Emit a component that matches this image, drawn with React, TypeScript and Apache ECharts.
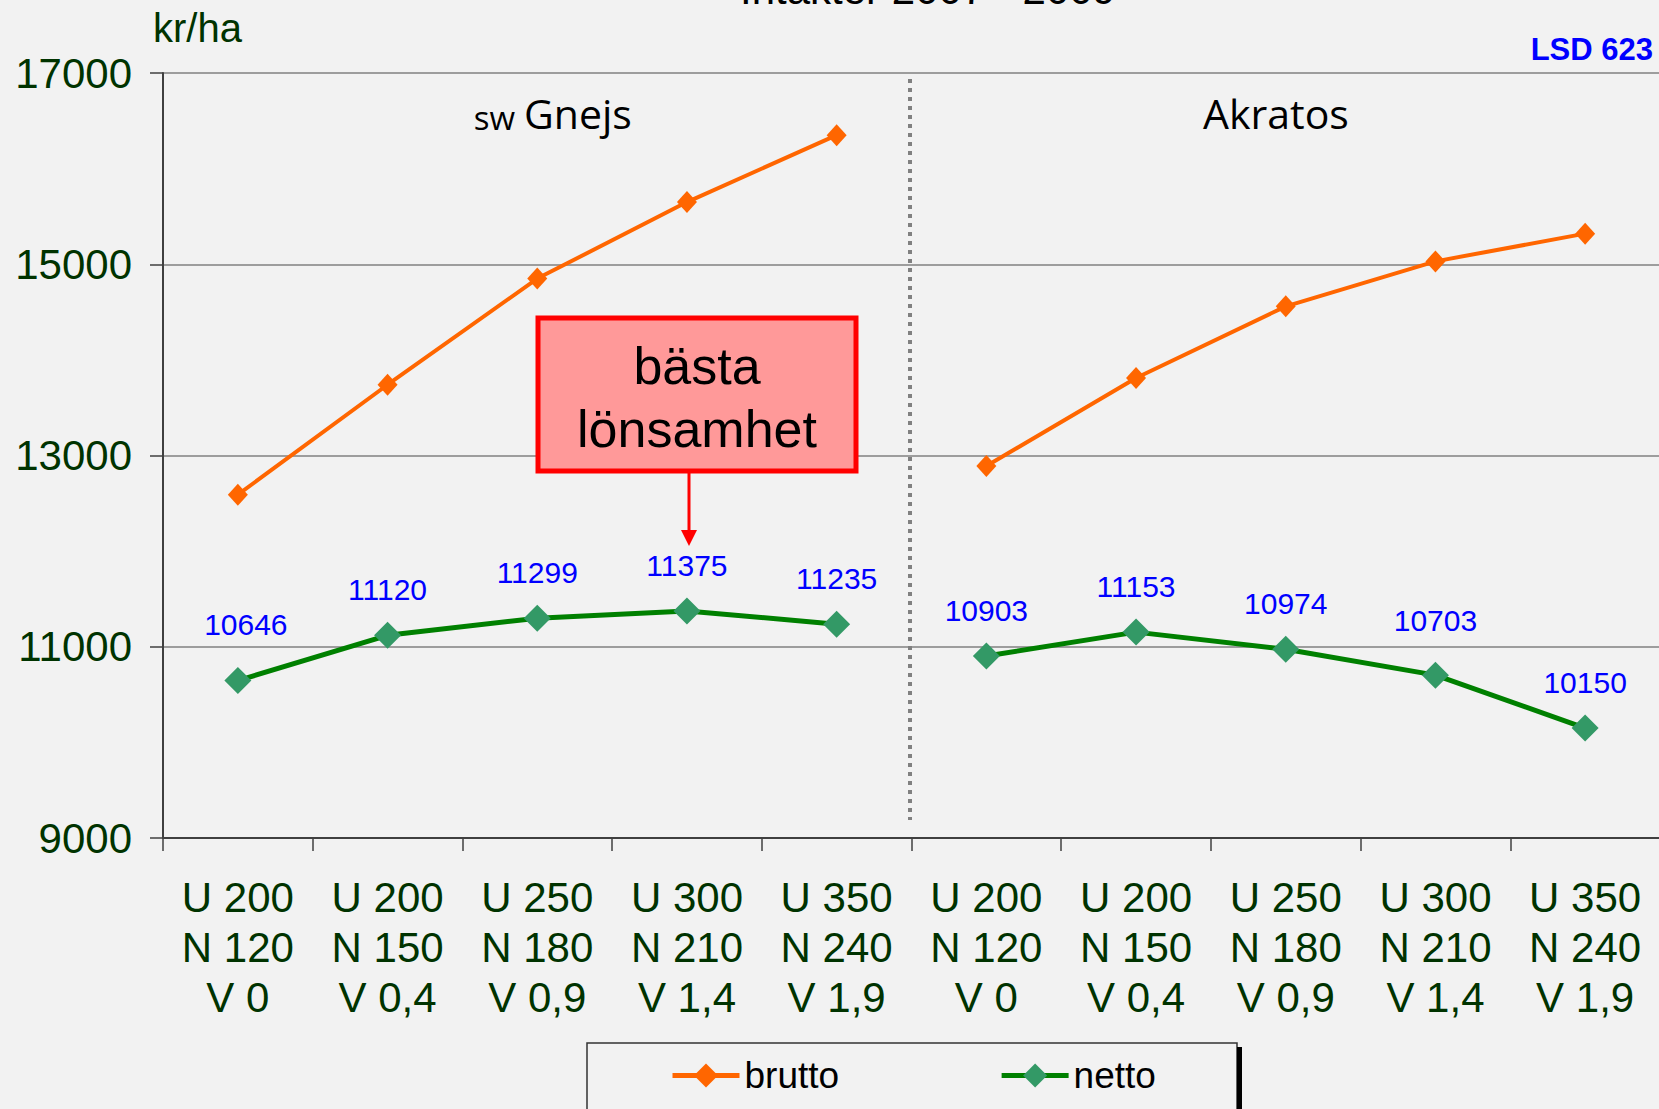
import React, { useEffect, useRef } from 'react';
import * as echarts from 'echarts';

const categories = [
  'U 200\nN 120\nV 0',
  'U 200\nN 150\nV 0,4',
  'U 250\nN 180\nV 0,9',
  'U 300\nN 210\nV 1,4',
  'U 350\nN 240\nV 1,9',
  'U 200\nN 120\nV 0',
  'U 200\nN 150\nV 0,4',
  'U 250\nN 180\nV 0,9',
  'U 300\nN 210\nV 1,4',
  'U 350\nN 240\nV 1,9',
];
const gnejsBrutto = [12590, 13740, 14850, 15650, 16350];
const akratosBrutto = [12890, 13810, 14560, 15030, 15320];
const gnejsNetto = [10646, 11120, 11299, 11375, 11235];
const akratosNetto = [10903, 11153, 10974, 10703, 10150];
const yMin = 9000;
const yMax = 17000;
const yInterval = 2000;

const ARIAL = '"Liberation Sans", Arial, sans-serif';
const CALIBRI = '"Open Sans", "Noto Sans", sans-serif';
const EMPTY = ['-', '-', '-', '-', '-'];

export default function App() {
  const ref = useRef<HTMLDivElement>(null);
  useEffect(() => {
    const chart = echarts.init(ref.current!, null, { renderer: 'svg' });
    const idx = categories.map((_, i) => String(i));
    const nettoLabel = {
      show: true,
      position: 'top',
      distance: 17,
      color: '#0000ff',
      fontSize: 30,
      fontFamily: ARIAL,
    };
    const option: any = {
      animation: false,
      backgroundColor: '#f2f2f2',
      grid: { left: 163, top: 73, width: 1497, height: 765, containLabel: false, outerBoundsMode: 'none' },
      legend: {
        left: 670,
        top: 1057,
        padding: 0,
        itemWidth: 67,
        itemHeight: 30,
        itemGap: 160,
        data: ['brutto', 'netto'],
        lineStyle: { width: 5 },
        textStyle: { fontSize: 37, fontFamily: ARIAL, color: '#000' },
      },
      xAxis: {
        type: 'category',
        data: idx,
        boundaryGap: true,
        axisLine: { show: true, lineStyle: { color: '#404040', width: 2 } },
        axisTick: { show: true, length: 13, lineStyle: { color: '#404040', width: 1.5 } },
        axisLabel: {
          formatter: (_v: string, i: number) => categories[i],
          interval: 0,
          margin: 34,
          color: '#003300',
          fontSize: 42,
          lineHeight: 50,
          fontFamily: ARIAL,
        },
        splitLine: { show: false },
      },
      yAxis: {
        type: 'value',
        min: yMin,
        max: yMax,
        interval: yInterval,
        axisLine: { show: true, lineStyle: { color: '#404040', width: 2 } },
        axisTick: { show: true, length: 13, lineStyle: { color: '#404040', width: 1.5 } },
        axisLabel: {
          margin: 31,
          color: '#003300',
          fontSize: 42,
          fontFamily: ARIAL,
          formatter: (v: number) => String(v),
        },
        splitLine: { show: true, lineStyle: { color: '#808080', width: 1.5 } },
      },
      series: [
        {
          name: 'brutto',
          type: 'line',
          data: [...gnejsBrutto, ...EMPTY],
          symbol: 'diamond',
          symbolSize: [20, 22],
          lineStyle: { color: '#ff6600', width: 4 },
          itemStyle: { color: '#ff6600' },
          z: 3,
        },
        {
          name: 'brutto',
          type: 'line',
          data: [...EMPTY, ...akratosBrutto],
          symbol: 'diamond',
          symbolSize: [20, 22],
          lineStyle: { color: '#ff6600', width: 4 },
          itemStyle: { color: '#ff6600' },
          z: 3,
        },
        {
          name: 'netto',
          type: 'line',
          data: [
            ...gnejsNetto.map((v, i) => (i === 0 ? { value: v, label: { offset: [8, -11] } } : v)),
            ...EMPTY,
          ],
          symbol: 'diamond',
          symbolSize: [27, 27],
          lineStyle: { color: '#008000', width: 5 },
          itemStyle: { color: '#339966' },
          label: nettoLabel,
          z: 3,
        },
        {
          name: 'netto',
          type: 'line',
          data: [
            ...EMPTY,
            ...akratosNetto.map((v, i) => (i === 3 ? { value: v, label: { offset: [0, -9] } } : v)),
          ],
          symbol: 'diamond',
          symbolSize: [27, 27],
          lineStyle: { color: '#008000', width: 5 },
          itemStyle: { color: '#339966' },
          label: nettoLabel,
          z: 3,
        },
      ],
      graphic: [
        {
          type: 'text',
          z: 10,
          style: {
            text: 'Intäkter 2007 - 2009',
            x: 928,
            y: -11,
            align: 'center',
            verticalAlign: 'middle',
            textAlign: 'center',
            textVerticalAlign: 'middle',
            fill: '#000',
            font: `42px ${ARIAL}`,
          },
        },
        {
          type: 'text',
          z: 10,
          style: {
            text: 'kr/ha',
            x: 153,
            y: 28,
            align: 'left',
            verticalAlign: 'middle',
            textAlign: 'left',
            textVerticalAlign: 'middle',
            fill: '#003300',
            font: `40px ${ARIAL}`,
          },
        },
        {
          type: 'text',
          z: 10,
          style: {
            text: 'LSD 623',
            x: 1653,
            y: 49,
            align: 'right',
            verticalAlign: 'middle',
            textAlign: 'right',
            textVerticalAlign: 'middle',
            fill: '#0000ff',
            font: `bold 31px ${ARIAL}`,
          },
        },
        {
          type: 'text',
          z: 10,
          style: {
            text: 'sw',
            x: 515,
            y: 117,
            align: 'right',
            verticalAlign: 'middle',
            textAlign: 'right',
            textVerticalAlign: 'middle',
            fill: '#000',
            font: `33px ${CALIBRI}`,
          },
        },
        {
          type: 'text',
          z: 10,
          style: {
            text: 'Gnejs',
            x: 524,
            y: 113,
            align: 'left',
            verticalAlign: 'middle',
            textAlign: 'left',
            textVerticalAlign: 'middle',
            fill: '#000',
            font: `41px ${CALIBRI}`,
          },
        },
        {
          type: 'text',
          z: 10,
          style: {
            text: 'Akratos',
            x: 1276,
            y: 113,
            align: 'center',
            verticalAlign: 'middle',
            textAlign: 'center',
            textVerticalAlign: 'middle',
            fill: '#000',
            font: `41px ${CALIBRI}`,
          },
        },
        {
          type: 'line',
          z: 1,
          shape: { x1: 910, y1: 79, x2: 910, y2: 820 },
          style: { stroke: '#808080', lineWidth: 4, lineDash: [4, 5] },
        },
        {
          type: 'rect',
          z: 10,
          shape: { x: 538, y: 318, width: 318, height: 153 },
          style: { fill: '#ff9999', stroke: '#ff0000', lineWidth: 5 },
        },
        {
          type: 'text',
          z: 11,
          style: {
            text: 'bästa\nlönsamhet',
            x: 697,
            y: 397,
            align: 'center',
            verticalAlign: 'middle',
            textAlign: 'center',
            textVerticalAlign: 'middle',
            fill: '#000',
            font: `52px ${ARIAL}`,
            lineHeight: 63,
          },
        },
        {
          type: 'line',
          z: 10,
          shape: { x1: 689, y1: 473, x2: 689, y2: 533 },
          style: { stroke: '#ff0000', lineWidth: 3 },
        },
        {
          type: 'polygon',
          z: 10,
          shape: { points: [[681, 530], [697, 530], [689, 546]] },
          style: { fill: '#ff0000' },
        },
        {
          type: 'rect',
          z: 1,
          shape: { x: 587, y: 1043, width: 650, height: 100 },
          style: { fill: '#f2f2f2', stroke: '#333333', lineWidth: 1.5 },
        },
        {
          type: 'rect',
          z: 1,
          shape: { x: 1237, y: 1047, width: 5, height: 80 },
          style: { fill: '#000000' },
        },
      ],
    };
    chart.setOption(option);
    return () => chart.dispose();
  }, []);
  return (
    <div
      ref={ref}
      style={{ position: 'absolute', left: 0, top: 0, width: 1659, height: 1109 }}
    />
  );
}
